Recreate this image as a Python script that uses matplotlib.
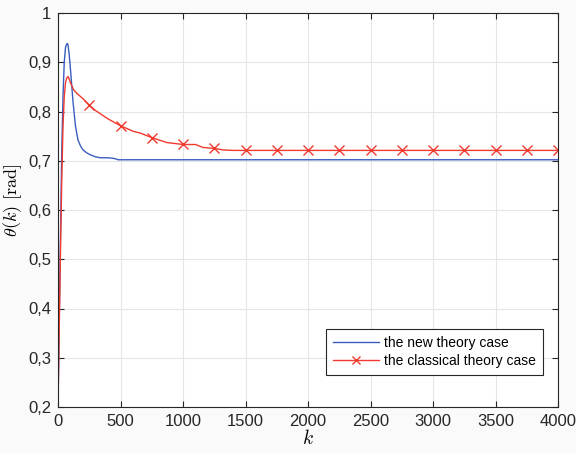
import numpy as np
import matplotlib
matplotlib.use('Agg')
import matplotlib.pyplot as plt

# theta(k) for the new theory case (read at waypoints)
k_new = [0, 10, 20, 30, 40, 50, 60, 70, 75, 80, 90, 100, 120, 140, 160,
         180, 200, 230, 260, 300, 340, 400, 440, 460, 480, 500, 4000]
theta_new = [0.2, 0.38, 0.55, 0.72, 0.83, 0.90, 0.93, 0.937, 0.938, 0.935,
             0.915, 0.885, 0.82, 0.77, 0.742, 0.73, 0.722, 0.716, 0.712,
             0.708, 0.706, 0.706, 0.705, 0.704, 0.702, 0.702, 0.702]

# theta(k) for the classical theory case
k_cls = [0, 10, 20, 30, 40, 50, 60, 70, 80, 90, 100, 125, 150, 200, 250,
         300, 400, 500, 600, 660, 750, 870, 1000, 1100, 1160, 1250, 1320,
         1400, 4000]
theta_cls = [0.2, 0.36, 0.52, 0.66, 0.77, 0.83, 0.858, 0.868, 0.871, 0.866,
             0.858, 0.844, 0.837, 0.826, 0.813, 0.802, 0.785, 0.771, 0.760,
             0.756, 0.747, 0.737, 0.733, 0.733, 0.727, 0.725, 0.722, 0.721,
             0.721]
k_marks = np.arange(250, 4001, 250)

yticks = [0.2, 0.3, 0.4, 0.5, 0.6, 0.7, 0.8, 0.9, 1.0]
ytick_labels = ['0,2', '0,3', '0,4', '0,5', '0,6', '0,7', '0,8', '0,9', '1']
xticks = [0, 500, 1000, 1500, 2000, 2500, 3000, 3500, 4000]

blue = '#3a5dc0'
red = '#f03a2e'

plt.rcParams['font.family'] = ['Liberation Sans', 'DejaVu Sans']
plt.rcParams['mathtext.fontset'] = 'cm'

fig = plt.figure(figsize=(5.76, 4.53), dpi=100, facecolor='#fafafa')
ax = fig.add_axes([58/576, 1 - 407/453, 500/576, 394/453])
ax.set_facecolor('white')

ax.plot(k_new, theta_new, color=blue, linewidth=1.0,
        label='the new theory case')
ax.plot(k_cls, theta_cls, color=red, linewidth=1.0)
# cross markers on the classical curve every 250 steps
ax.plot(k_marks, np.interp(k_marks, k_cls, theta_cls), linestyle='none',
        marker='x', markersize=6.5, markeredgewidth=1.0, color=red)
ax.plot([], [], color=red, linewidth=1.0, marker='x', markersize=6,
        label='the classical theory case')

ax.set_xlim(0, 4000)
ax.set_ylim(0.2, 1)
ax.set_xticks(xticks)
ax.set_yticks(yticks)
ax.set_yticklabels(ytick_labels)
ax.tick_params(direction='in', length=4, labelsize=12, colors='#262626',
               top=True, right=True, pad=5)
ax.grid(True, color='#e6e6e6', linewidth=0.8)
ax.set_axisbelow(True)
for s in ax.spines.values():
    s.set_color('#262626')
    s.set_linewidth(0.8)

ax.set_xlabel(r'$k$', fontsize=14, labelpad=0)
ax.set_ylabel(r'$\theta(k)\ [\mathrm{rad}]$', fontsize=13)
ax.yaxis.set_label_coords(-0.068, 0.525)

leg = ax.legend(loc='lower right', bbox_to_anchor=(0.97, 0.081),
                borderaxespad=0, fontsize=10, fancybox=False,
                edgecolor='#262626', framealpha=1, borderpad=0.5,
                handlelength=3.3, handletextpad=0.4, labelspacing=0.3)
leg.get_frame().set_linewidth(0.8)

fig.savefig('out.png', dpi=100, facecolor=fig.get_facecolor())
